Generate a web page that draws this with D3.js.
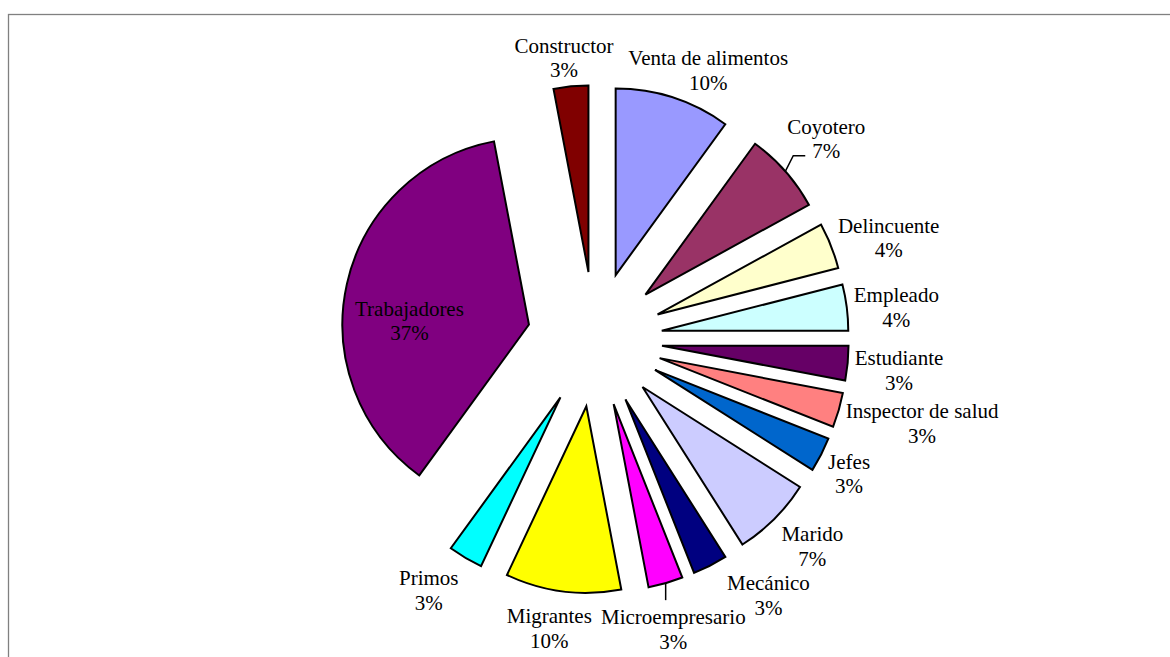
<!DOCTYPE html>
<html>
<head>
<meta charset="utf-8">
<script src="https://cdn.jsdelivr.net/npm/d3@7"></script>
<style>
  html, body { margin: 0; padding: 0; background: #fff; }
  svg { display: block; }
</style>
</head>
<body>
<svg id="chart" width="1170" height="657"></svg>
<script>
// Occupations, share of mentions (%)
const categories = [
  "Venta de alimentos", "Coyotero", "Delincuente", "Empleado", "Estudiante",
  "Inspector de salud", "Jefes", "Marido", "Mecánico", "Microempresario",
  "Migrantes", "Primos", "Trabajadores", "Constructor"
];
const shares = [10, 7, 4, 4, 3, 3, 3, 7, 3, 3, 10, 3, 37, 3];
const fills = [
  "#9999FF", "#993366", "#FFFFCC", "#CCFFFF", "#660066",
  "#FF8080", "#0066CC", "#CCCCFF", "#000080", "#FF00FF",
  "#FFFF00", "#00FFFF", "#800080", "#800000"
];

// Layout
const width = 1170, height = 657;
const cx = 594.8, cy = 339.3;
const radius = 186.5, explode = 67.5;
const fontSize = 21, lineGap = 24.5;
const fontFamily = "'Liberation Serif', 'Times New Roman', serif";

// Labels dragged away from their default spot: [dx, dy, drawLeader]
const labelShift = {
  "Coyotero": [-4, -15, true],
  "Microempresario": [-41, 10, true],
  "Mecánico": [10, -4, false],
  "Trabajadores": [-3, 22, false]
};
const insideLabels = new Set(["Trabajadores"]);

const data = categories.map((c, i) => ({ name: c, value: shares[i], fill: fills[i] }));
const total = d3.sum(shares);
const pctFmt = v => Math.round(v / total * 100) + "%";

const svg = d3.select("#chart");

// chart area frame
svg.append("rect")
  .attr("x", 8.5).attr("y", 14.5)
  .attr("width", width + 20).attr("height", height + 20)
  .attr("fill", "none").attr("stroke", "#808080").attr("stroke-width", 1.3);

const pie = d3.pie().value(d => d.value).sort(null)
  .startAngle(0).endAngle(2 * Math.PI);
const arc = d3.arc().innerRadius(0).outerRadius(radius);
const arcs = pie(data);

const dir = a => {
  const m = (a.startAngle + a.endAngle) / 2;
  return [Math.sin(m), -Math.cos(m)];
};

// exploded slices
svg.append("g").selectAll("path")
  .data(arcs)
  .join("path")
  .attr("transform", a => {
    const [ux, uy] = dir(a);
    return `translate(${cx + explode * ux},${cy + explode * uy})`;
  })
  .attr("d", arc)
  .attr("fill", a => a.data.fill)
  .attr("stroke", "#000")
  .attr("stroke-width", 2)
  .attr("stroke-linejoin", "miter");

// data labels
const labelG = svg.append("g")
  .attr("font-family", fontFamily)
  .attr("font-size", fontSize)
  .attr("fill", "#000");
const leaderG = svg.append("g")
  .attr("fill", "none").attr("stroke", "#000").attr("stroke-width", 1.5);

const clamp = (v, lo, hi) => Math.max(lo, Math.min(hi, v));

arcs.forEach(a => {
  const [ux, uy] = dir(a);
  const t = labelG.append("text").attr("text-anchor", "middle");
  const l1 = t.append("tspan").text(a.data.name);
  const l2 = t.append("tspan").text(pctFmt(a.data.value));
  const w = Math.max(l1.node().getComputedTextLength(), l2.node().getComputedTextLength());
  const pctW = l2.node().getComputedTextLength();

  const shift = labelShift[a.data.name] || [0, 0, false];
  let lx, ly;
  const ax = cx + (explode + radius) * ux;
  const ay = cy + (explode + radius) * uy;
  if (insideLabels.has(a.data.name)) {
    const sx = cx + explode * ux, sy = cy + explode * uy;
    lx = sx + 0.64 * radius * ux;
    ly = sy + 0.64 * radius * uy;
  } else {
    // box pushed sideways off the arc, further on the lower half
    const side = clamp(ux * (uy > 0 ? 2.2 : 1.3), -1, 1);
    lx = ax + (w / 2 + 7) * side;
    ly = ay + 4 + 33 * uy;
  }
  lx += shift[0];
  ly += shift[1];

  l1.attr("x", lx).attr("y", ly - lineGap / 2).attr("dy", "0.35em");
  l2.attr("x", lx).attr("y", ly + lineGap / 2).attr("dy", "0.35em");

  if (shift[2]) {
    let pts;
    if (lx - pctW / 2 > ax + 10) {
      const ex = lx - pctW / 2 - 7, ey = ly + lineGap / 2 + 5;
      pts = [[ax, ay], [ex - 12, ey], [ex, ey]];
    } else {
      pts = [[ax, ay], [ax, ly - lineGap / 2 - 16.5]];
    }
    leaderG.append("path").attr("d", d3.line()(pts));
  }
});
</script>
</body>
</html>
